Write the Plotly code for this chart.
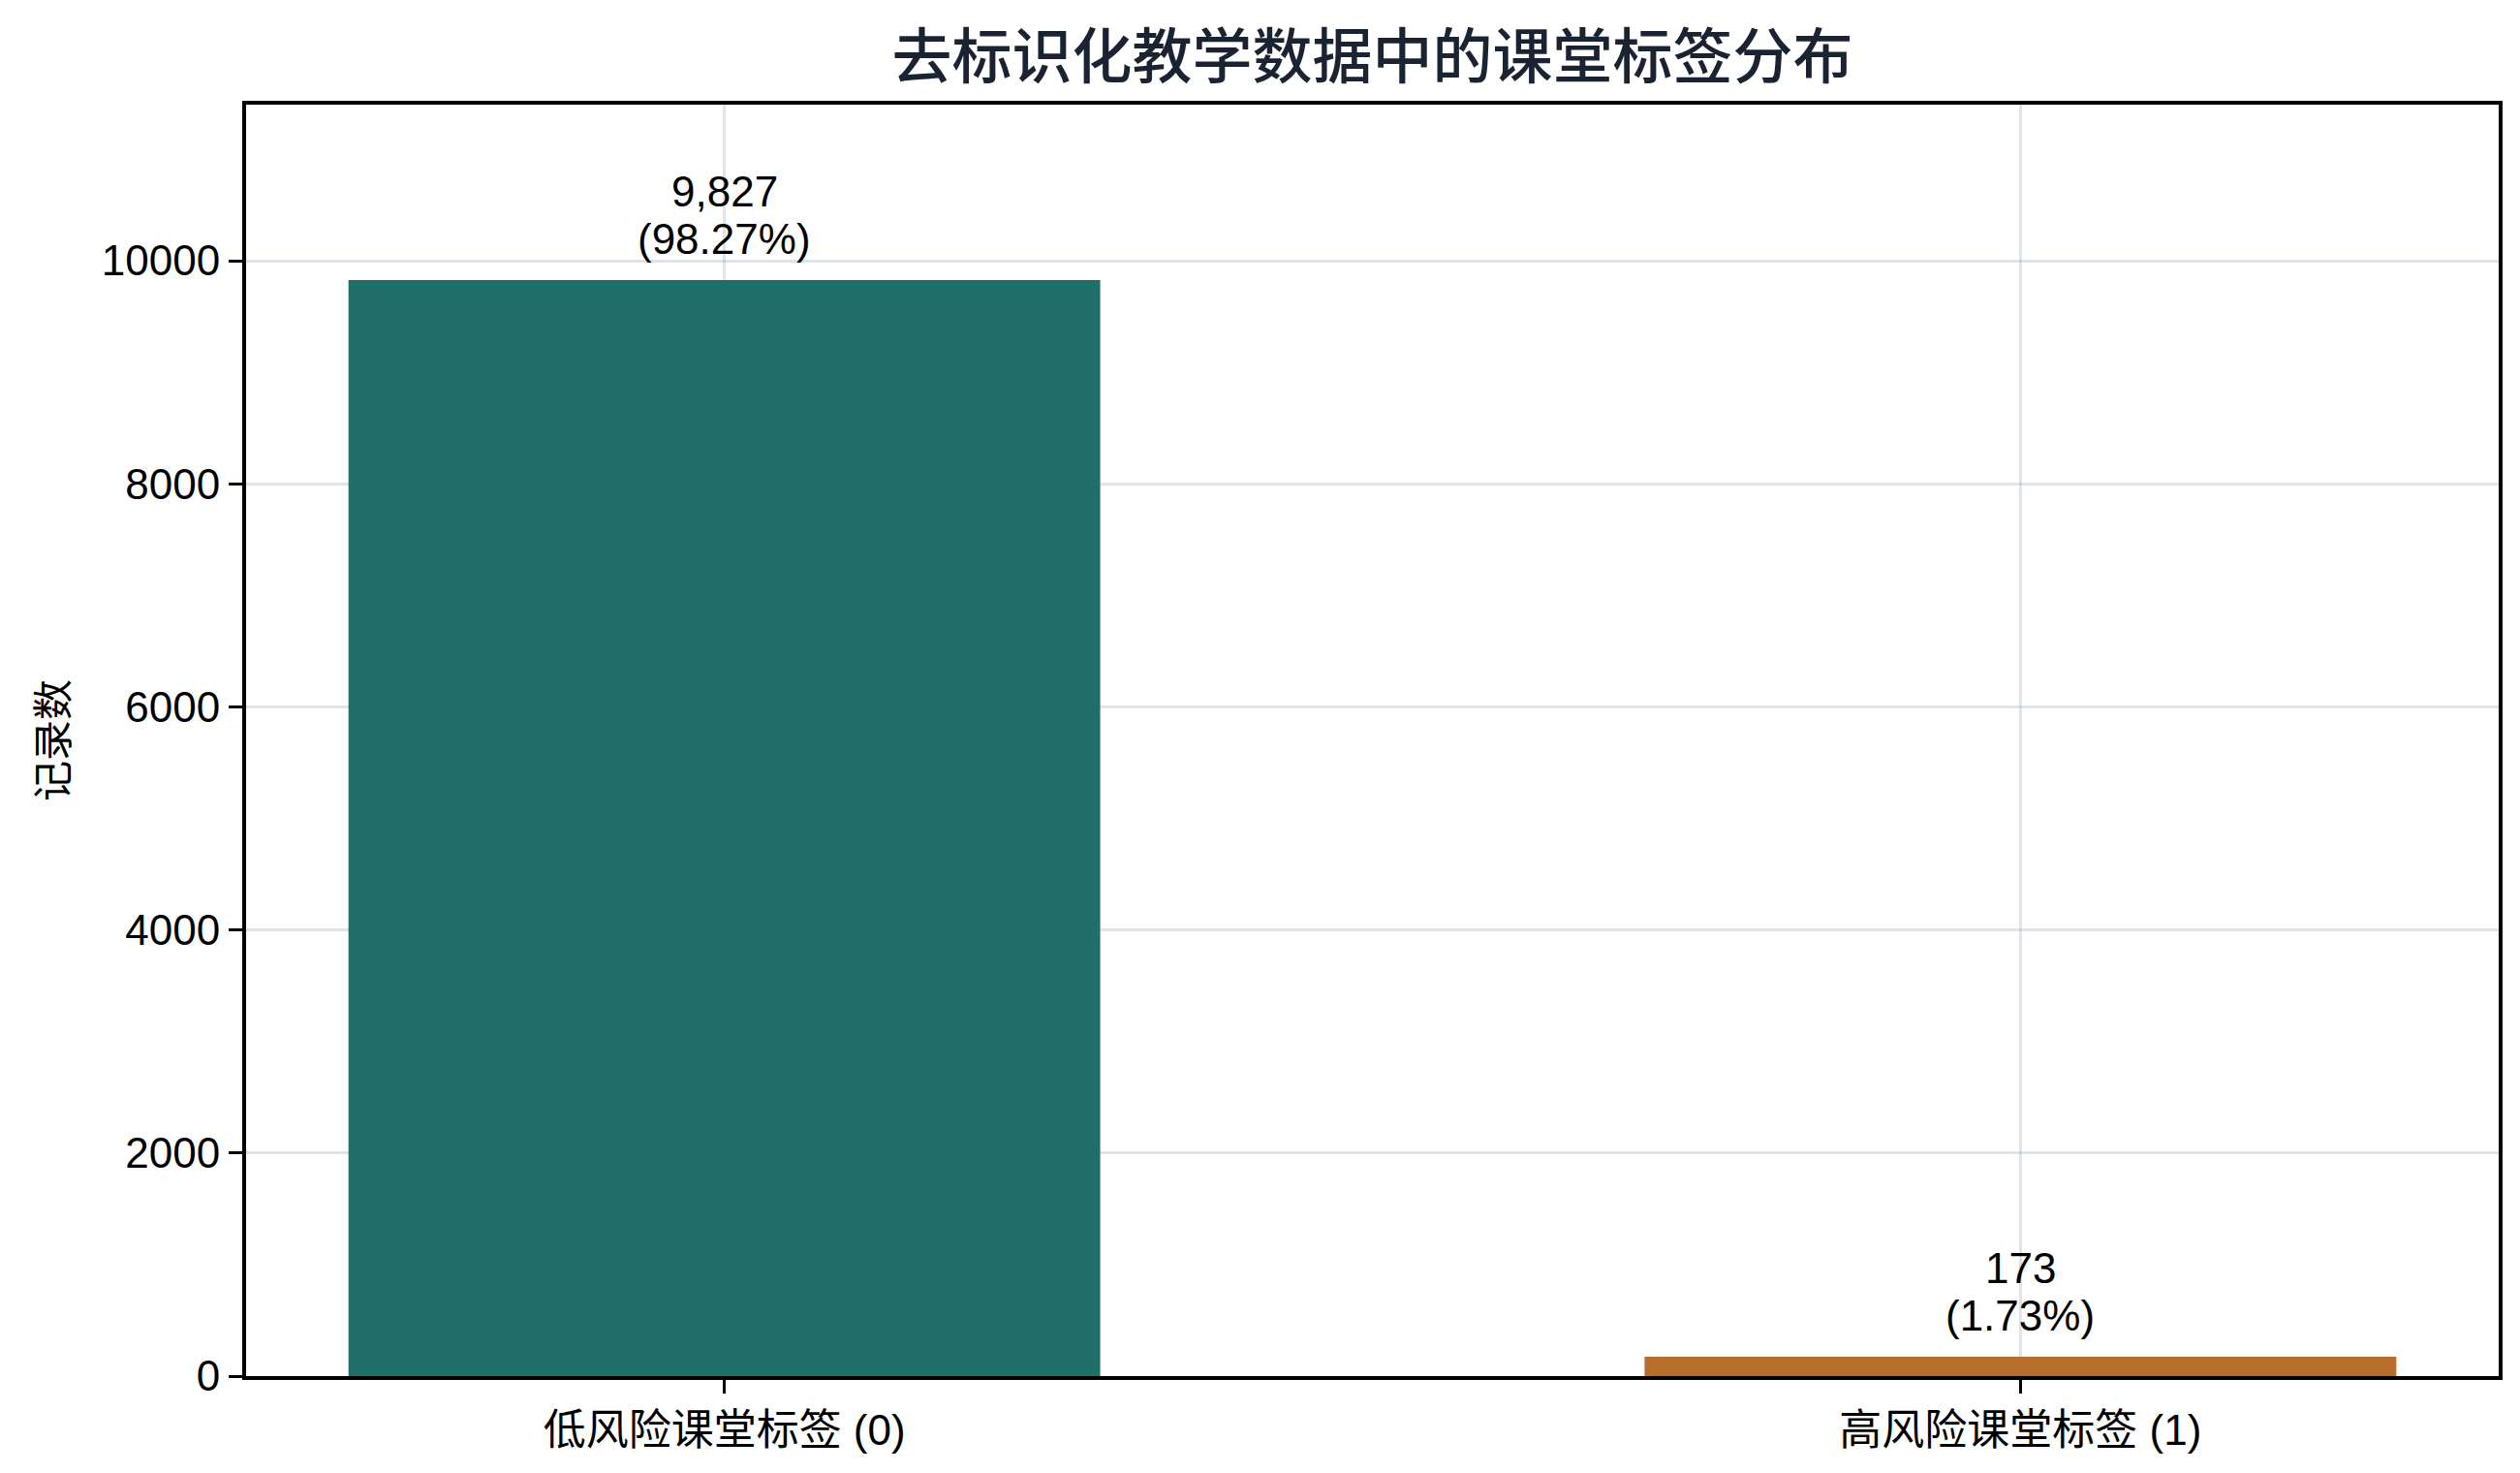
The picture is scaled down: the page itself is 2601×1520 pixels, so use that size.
import plotly.graph_objects as go

categories = ['低风险课堂标签 (0)', '高风险课堂标签 (1)']
counts = [9827, 173]
shares = [98.27, 1.73]
bar_colors = ['#1f6e68', '#b86c2d']
y_ticks = [0, 2000, 4000, 6000, 8000, 10000]

font_main = 'Liberation Sans, Arial, Noto Sans CJK SC'
grid_col = 'rgba(160,172,185,0.32)'

fig = go.Figure()
fig.add_trace(go.Bar(x=categories,
                     y=counts,
                     width=0.58,
                     marker_color=bar_colors,
                     marker_line_width=0,
                     hoverinfo='x+y'))

# labels above each bar: count on top, share below it
for cat, n, pct in zip(categories, counts, shares):
    fig.add_annotation(x=cat, y=n, text='({:.2f}%)'.format(pct),
                       showarrow=False, yanchor='bottom', yshift=16,
                       font=dict(family=font_main, size=44, color='black'))
    fig.add_annotation(x=cat, y=n, text='{:,}'.format(n),
                       showarrow=False, yanchor='bottom', yshift=65,
                       font=dict(family=font_main, size=44, color='black'))

fig.update_layout(
    width=2601,
    height=1520,
    paper_bgcolor='white',
    plot_bgcolor='white',
    margin=dict(l=246, r=30, t=100, b=108),
    showlegend=False,
    title=dict(text='去标识化教学数据中的课堂标签分布',
               xref='paper', x=0.5, xanchor='center',
               y=1 - 51 / 1520, yanchor='middle',
               font=dict(family='Noto Sans CJK SC', size=62,
                         color='#1a2332', weight=500)),
    font=dict(family=font_main, size=44, color='black'),
)

fig.update_xaxes(range=[-0.369, 1.369],
                 showline=True, linecolor='black', linewidth=4, mirror=True,
                 ticks='outside', ticklen=14, tickwidth=3, tickcolor='black',
                 showgrid=True, gridcolor=grid_col, gridwidth=2.5,
                 layer='above traces',
                 tickfont=dict(family='Liberation Sans, Noto Sans CJK SC', size=44))

fig.update_yaxes(range=[0, 11399],
                 tickvals=y_ticks, tickformat='d',
                 showline=True, linecolor='black', linewidth=4, mirror=True,
                 ticks='outside', ticklen=14, tickwidth=3, tickcolor='black',
                 showgrid=True, gridcolor=grid_col, gridwidth=2.5,
                 zeroline=False,
                 layer='above traces',
                 title=dict(text='记录数', standoff=22,
                            font=dict(family='Noto Sans CJK SC', size=42)),
                 tickfont=dict(family=font_main, size=44))

fig.write_html("out.html")
